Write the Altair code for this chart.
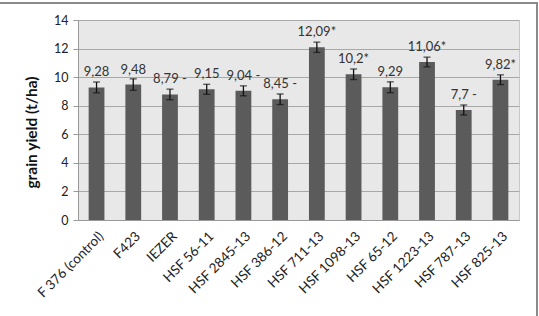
import altair as alt
import pandas as pd

varieties = ["F 376 (control)", "F423", "IEZER", "HSF 56-11", "HSF 2845-13", "HSF 386-12",
             "HSF 711-13", "HSF 1098-13", "HSF 65-12", "HSF 1223-13", "HSF 787-13", "HSF 825-13"]
yields = [9.28, 9.48, 8.79, 9.15, 9.04, 8.45, 12.09, 10.2, 9.29, 11.06, 7.7, 9.82]
errors = [0.38, 0.40, 0.37, 0.35, 0.35, 0.37, 0.36, 0.37, 0.38, 0.34, 0.35, 0.34]
labels = ["9,28", "9,48", "8,79 -", "9,15", "9,04 -", "8,45 -", "12,09*", "10,2*", "9,29",
          "11,06*", "7,7 -", "9,82*"]
y_ticks = [0, 2, 4, 6, 8, 10, 12, 14]

df = pd.DataFrame({"variety": varieties, "yield": yields, "err": errors, "label": labels})
df["lo"] = df["yield"] - df["err"]
df["hi"] = df["yield"] + df["err"]

FONT = "Lato"
x = alt.X("variety:N", sort=varieties, title=None,
          scale=alt.Scale(paddingInner=0.57, paddingOuter=0.29),
          axis=alt.Axis(labelAngle=-45, labelAlign="right", labelBaseline="top",
                        labelFontSize=13.5, labelColor="#222", labelFont=FONT,
                        ticks=False, domainColor="#999", labelPadding=9))
y_axis = alt.Axis(values=y_ticks, labelFontSize=12.5, labelColor="#222", labelOverlap=False,
                  labelFont=FONT, ticks=True, tickSize=5, tickColor="#999", domain=True,
                  domainColor="#999", gridColor="#a8a8a8",
                  title="grain yield (t/ha)", titleFontSize=15.5, titleFont=FONT,
                  titleFontWeight="bold", titleColor="#111", titlePadding=14, labelPadding=5,
                  titleY=112)
y_scale = alt.Scale(domain=[0, 14])


def Y(field):
    return alt.Y(field, scale=y_scale, axis=y_axis)


base = alt.Chart(df)
bars = base.mark_bar(color="#5b5b5b").encode(x=x, y=Y("yield:Q"))
rules = base.mark_rule(color="#111", strokeWidth=1.3).encode(x=x, y=Y("lo:Q"), y2="hi:Q")
caps_hi = base.mark_tick(color="#111", size=7, thickness=1.3).encode(x=x, y=Y("hi:Q"))
caps_lo = base.mark_tick(color="#111", size=7, thickness=1.3).encode(x=x, y=Y("lo:Q"))
text = base.mark_text(dy=-15, baseline="middle", fontSize=13, font=FONT, color="#333").encode(
    x=x, y=Y("yield:Q"), text="label:N")
border = base.mark_rect(fill=None, stroke="#8a8a8a", strokeWidth=2).encode(
    x=alt.value(-80), x2=alt.value(459), y=alt.value(-17), y2=alt.value(300))

chart = alt.layer(bars, rules, caps_hi, caps_lo, text, border).properties(
    width=441, height=200,
    autosize=alt.AutoSizeParams(type="none"),
    padding={"left": 78, "top": 20, "right": 20, "bottom": 96},
    background="white",
).configure_view(fill="#e8e8e8", stroke="#c8c8c8")

chart.save("out.html", embed_options={"renderer": "svg", "actions": False})
